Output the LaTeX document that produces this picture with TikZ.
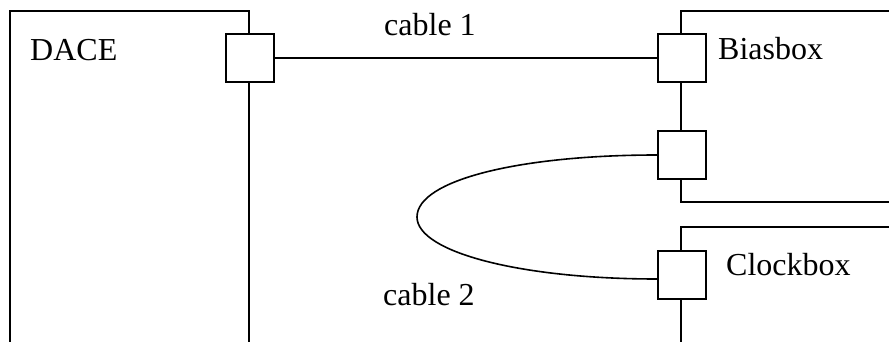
\documentclass[tikz,border=0pt]{standalone}
\usepackage{fontspec}
\setmainfont{Liberation Serif}
\begin{document}
\begin{tikzpicture}[x=1pt,y=-1pt,
  line/.style={line width=2pt},
  port/.style={draw,line width=2pt,fill=white,minimum size=48pt,inner sep=0pt},
  lbl/.style={inner sep=0pt,anchor=base west,font=\fontsize{32}{38}\selectfont}]
\useasboundingbox (0,0) rectangle (889,342);
% box outlines
\draw[line] (10,342) -- (10,11) -- (249,11) -- (249,342);
\draw[line] (889,11) -- (681,11) -- (681,202) -- (889,202);
\draw[line] (889,227) -- (681,227) -- (681,342);
% ports
\node[port] (dp) at (249.5,58.5) {};
\node[port] (bp1) at (682,58.5) {};
\node[port] (bp2) at (682,155) {};
\node[port] (cp) at (682,275) {};
% cables
\draw[line] (dp.east) -- (bp1.west);
\draw[line, line width=1.6pt] (bp2.west) .. controls (520,155) and (417,180) .. (417,217)
  .. controls (417,252) and (520,279) .. ([yshift=-4pt]cp.west);
% labels
\node[lbl] (tdace) at (30,61) {DACE};
\node[lbl] (tbias) at (718,60) {Biasbox};
\node[lbl] (tclock) at (726,275) {Clockbox};
\node[lbl] (tc1) at (384,36) {cable 1};
\node[lbl] (tc2) at (383,305) {cable 2};
\end{tikzpicture}
\end{document}
